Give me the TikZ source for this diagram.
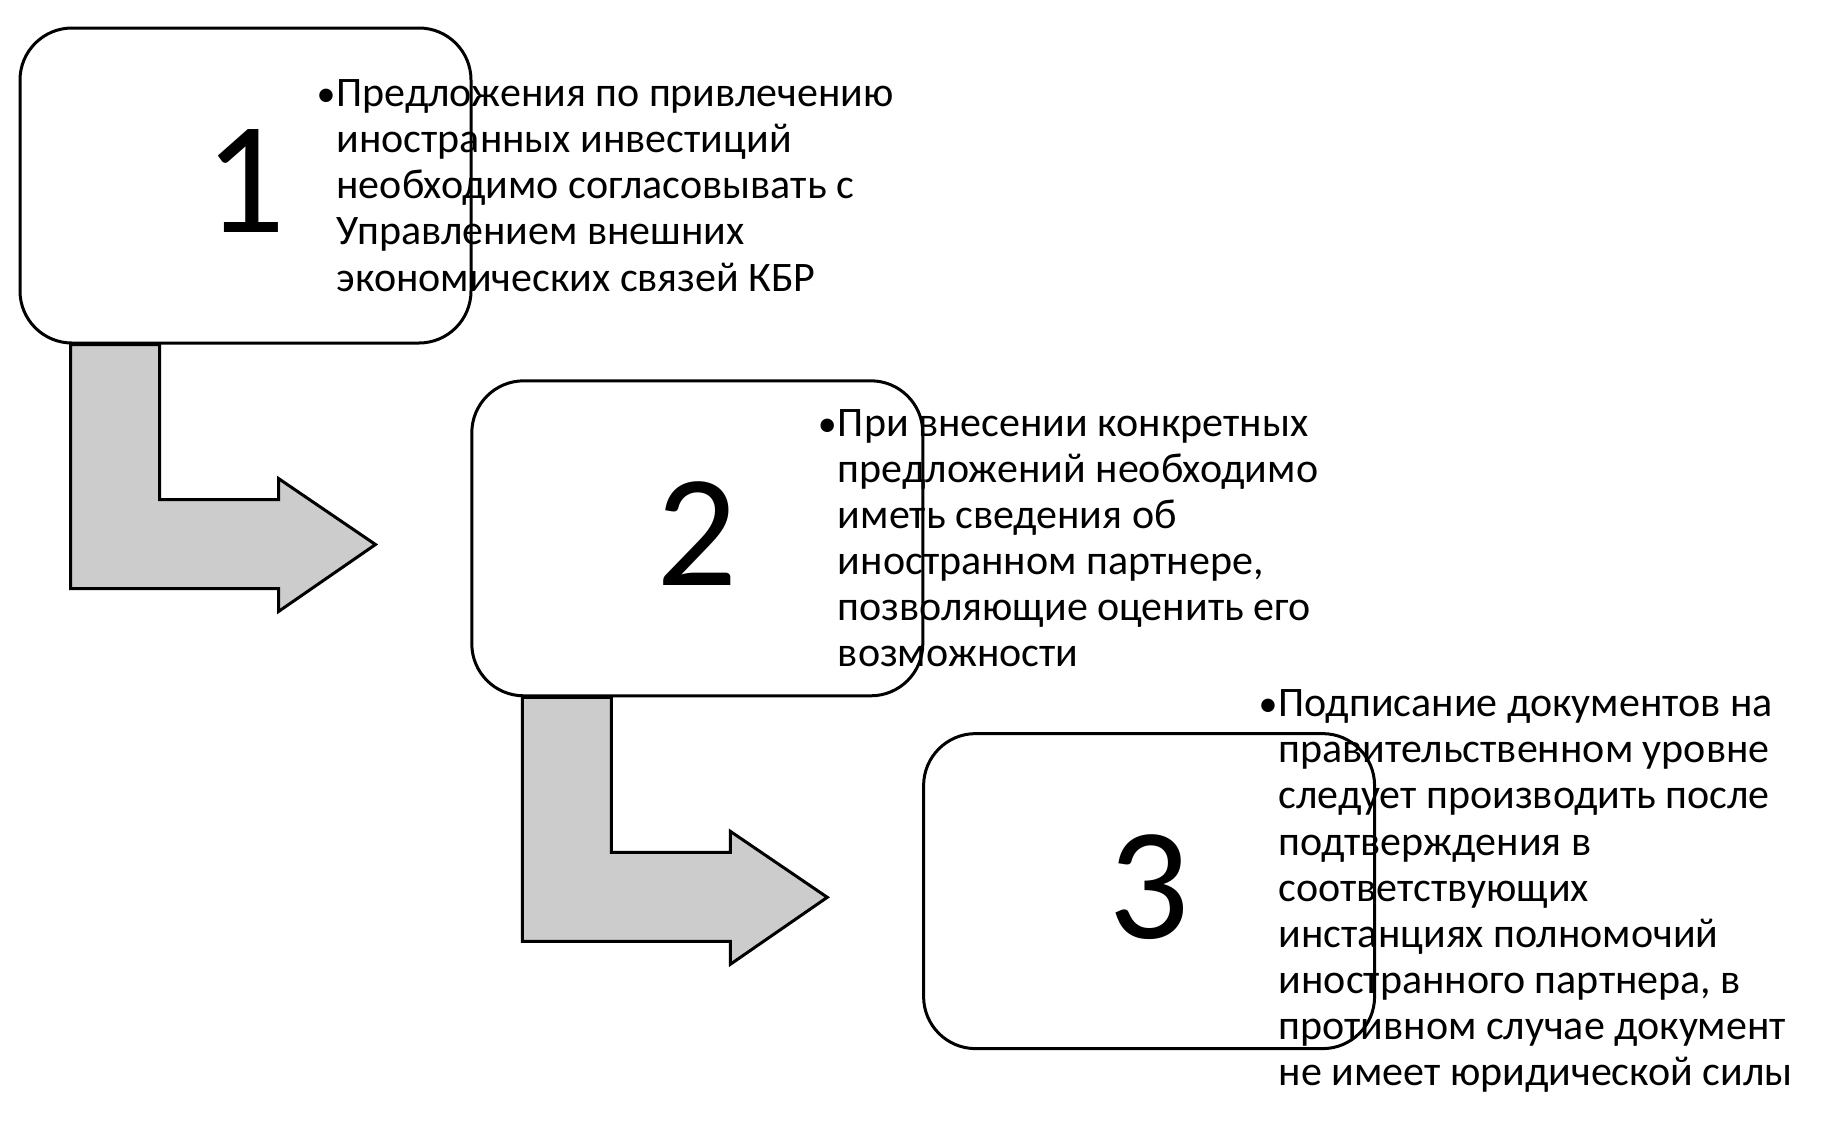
\documentclass[tikz,border=0pt]{standalone}
\usepackage{fontspec}
\setmainfont{Carlito}
\usetikzlibrary{positioning}
\pgfdeclarelayer{back}
\pgfsetlayers{back,main}
\newcommand{\bul}{\makebox[7.6pt][l]{\kern-2.4pt\fontsize{19}{19}\selectfont•}}
\newcommand{\ind}{\hspace*{7.6pt}}
\tikzstyle{numbox} = [rectangle, rounded corners=26pt, minimum width=225.5pt, minimum height=157.5pt, draw=black, line width=1.5pt, fill=white, text depth=4.8pt, font=\fontsize{80}{86}\selectfont]
\tikzstyle{note} = [inner sep=0pt, anchor=west, align=left, font=\fontsize{21}{23.05}\selectfont]
\tikzstyle{bentarrow} = [draw=black, fill=gray!40, line width=1.5pt]

\begin{document}
\begin{tikzpicture}[x=0.5pt, y=-0.5pt]
\useasboundingbox (0,0) rectangle (1821,1121);

\node (box1) [numbox] at (245.5,185.5) {1};
\node (box2) [numbox, below right=17.4pt and -1.1pt of box1] {2};
\node (box3) [numbox, below right=17.4pt and -1.1pt of box2] {3};

\node (note1) [note, xshift=151.2pt] at (box1.west) {\bul Предложения по привлечению\\
\ind иностранных инвестиций\\
\ind необходимо согласовывать с\\
\ind Управлением внешних\\
\ind экономических связей КБР};
\node (note2) [note, xshift=176pt] at (box2.west) {\bul При внесении конкретных\\
\ind предложений необходимо\\
\ind иметь сведения об\\
\ind иностранном партнере,\\
\ind позволяющие оценить его\\
\ind возможности};
\node (note3) [note, xshift=170.5pt] at (box3.west) {\bul Подписание документов на\\
\ind правительственном уровне\\
\ind следует производить после\\
\ind подтверждения в\\
\ind соответствующих\\
\ind инстанциях полномочий\\
\ind иностранного партнера, в\\
\ind противном случае документ\\
\ind не имеет юридической силы};

\begin{pgfonlayer}{back}
\draw [bentarrow, shift={(box1.south west)}] (52,0) -- ++(0,244) -- ++(208,0) -- ++(0,23) -- ++(97,-67) -- ++(-97,-66) -- ++(0,21) -- ++(-119,0) -- ++(0,-155) -- cycle;
\draw [bentarrow, shift={(box2.south west)}] (52,0) -- ++(0,244) -- ++(208,0) -- ++(0,23) -- ++(97,-67) -- ++(-97,-66) -- ++(0,21) -- ++(-119,0) -- ++(0,-155) -- cycle;
\end{pgfonlayer}

\end{tikzpicture}
\end{document}
